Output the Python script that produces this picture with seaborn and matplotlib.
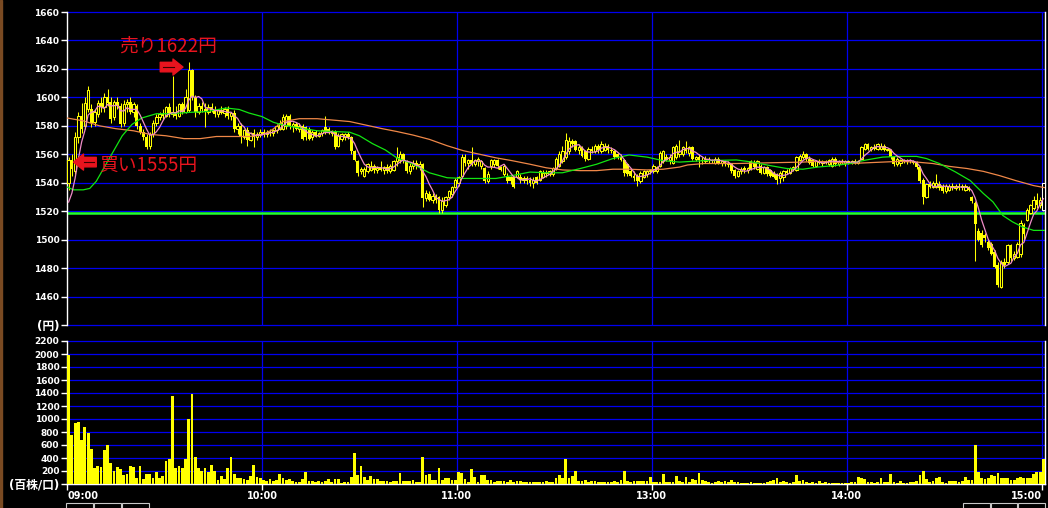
import matplotlib
matplotlib.use("Agg")
import matplotlib.pyplot as plt
from matplotlib.patches import Rectangle
import numpy as np
import pandas as pd
import seaborn as sns

# 1分足 (09:00-11:30, 12:30-15:00)
opens = [
    1540, 1556, 1548, 1572, 1587, 1580, 1592, 1592, 1583, 1588,
    1596, 1593, 1600, 1597, 1586, 1597, 1594, 1582, 1595, 1597,
    1590, 1594, 1580, 1576, 1572, 1566, 1574, 1582, 1586, 1588,
    1587, 1593, 1588, 1590, 1587, 1595, 1590, 1591, 1619, 1600,
    1590, 1594, 1592, 1590, 1593, 1591, 1588, 1591, 1589, 1592,
    1587, 1589, 1578, 1580, 1572, 1577, 1570, 1575, 1572, 1574,
    1576, 1574, 1576, 1575, 1577, 1578, 1578, 1580, 1587, 1580,
    1581, 1578, 1580, 1579, 1578, 1572, 1576, 1573, 1575, 1579,
    1578, 1575, 1576, 1566, 1571, 1572, 1574, 1572, 1562, 1555,
    1548, 1545, 1548, 1549, 1552, 1549, 1550, 1549, 1551, 1548,
    1549, 1555, 1556, 1560, 1555, 1548, 1552, 1554, 1552, 1553,
    1529, 1532, 1528, 1531, 1530, 1521, 1524, 1530, 1532, 1537,
    1540, 1545, 1558, 1554, 1556, 1553, 1555, 1552, 1550, 1541,
    1552, 1553, 1556, 1551, 1546, 1545, 1544, 1544, 1544, 1544,
    1542, 1543, 1542, 1540, 1544, 1542, 1544, 1547, 1546, 1546,
    1550, 1552, 1555, 1558, 1562, 1569, 1569, 1563, 1565, 1562,
    1557, 1564, 1562, 1566, 1562, 1563, 1566, 1563, 1562, 1560,
    1558, 1556, 1553, 1548, 1545, 1545, 1541, 1544, 1546, 1548,
    1548, 1548, 1552, 1555, 1558, 1556, 1554, 1558, 1560, 1560,
    1564, 1561, 1565, 1557, 1558, 1556, 1555, 1557, 1556, 1554,
    1557, 1554, 1555, 1553, 1553, 1549, 1545, 1548, 1550, 1549,
    1555, 1554, 1550, 1552, 1547, 1551, 1549, 1547, 1546, 1543,
    1544, 1548, 1547, 1550, 1549, 1556, 1558, 1560, 1557, 1556,
    1552, 1555, 1554, 1555, 1553, 1552, 1557, 1553, 1555, 1554,
    1555, 1554, 1555, 1554, 1557, 1564, 1567, 1564, 1565, 1564,
    1564, 1566, 1563, 1563, 1558, 1553, 1554, 1556, 1555, 1556,
    1555, 1554, 1551, 1542, 1530, 1539, 1537, 1537, 1539, 1538,
    1534, 1535, 1538, 1536, 1538, 1538, 1535, 1536, 1530, 1526,
    1506, 1505, 1503, 1498, 1497, 1491, 1482, 1467, 1484, 1484,
    1496, 1487, 1488, 1490, 1510, 1514, 1519, 1522, 1528, 1524,
    1521,
]
highs = [
    1558, 1560, 1576, 1590, 1596, 1600, 1608, 1595, 1592, 1598,
    1600, 1603, 1606, 1600, 1598, 1600, 1596, 1598, 1599, 1600,
    1597, 1595, 1582, 1578, 1574, 1576, 1584, 1588, 1590, 1592,
    1594, 1596, 1615, 1594, 1596, 1597, 1606, 1625, 1620, 1602,
    1596, 1597, 1596, 1595, 1596, 1594, 1592, 1594, 1593, 1594,
    1590, 1591, 1582, 1582, 1578, 1579, 1576, 1578, 1576, 1578,
    1578, 1577, 1578, 1578, 1581, 1584, 1588, 1588, 1588, 1583,
    1583, 1582, 1581, 1580, 1579, 1577, 1577, 1576, 1578, 1587,
    1579, 1577, 1577, 1575, 1575, 1575, 1576, 1573, 1563, 1556,
    1551, 1551, 1554, 1555, 1553, 1552, 1555, 1552, 1553, 1553,
    1556, 1565, 1562, 1561, 1556, 1554, 1556, 1556, 1555, 1554,
    1535, 1534, 1533, 1532, 1531, 1530, 1531, 1535, 1538, 1543,
    1545, 1560, 1560, 1557, 1565, 1557, 1558, 1556, 1551, 1548,
    1557, 1557, 1557, 1552, 1553, 1547, 1545, 1545, 1549, 1546,
    1545, 1545, 1544, 1544, 1545, 1549, 1549, 1549, 1549, 1551,
    1558, 1562, 1566, 1575, 1572, 1571, 1570, 1567, 1566, 1563,
    1565, 1566, 1567, 1567, 1569, 1568, 1567, 1565, 1563, 1561,
    1560, 1557, 1554, 1550, 1548, 1546, 1548, 1549, 1549, 1550,
    1553, 1552, 1562, 1563, 1560, 1560, 1566, 1567, 1570, 1566,
    1569, 1566, 1566, 1559, 1560, 1558, 1559, 1558, 1557, 1558,
    1558, 1556, 1556, 1555, 1554, 1550, 1549, 1551, 1552, 1551,
    1556, 1556, 1556, 1553, 1552, 1552, 1550, 1548, 1547, 1548,
    1549, 1550, 1551, 1552, 1559, 1560, 1562, 1561, 1559, 1557,
    1556, 1557, 1556, 1556, 1557, 1558, 1558, 1556, 1557, 1556,
    1556, 1556, 1557, 1556, 1566, 1568, 1568, 1566, 1567, 1568,
    1568, 1567, 1564, 1564, 1559, 1558, 1557, 1557, 1557, 1557,
    1556, 1555, 1552, 1543, 1540, 1541, 1541, 1546, 1541, 1539,
    1539, 1539, 1540, 1539, 1540, 1539, 1539, 1538, 1531, 1527,
    1508, 1507, 1505, 1500, 1498, 1493, 1484, 1486, 1487, 1497,
    1497, 1492, 1498, 1514, 1512, 1522, 1525, 1531, 1533, 1530,
    1540,
]
lows = [
    1535, 1545, 1546, 1568, 1575, 1578, 1590, 1579, 1580, 1586,
    1590, 1590, 1594, 1582, 1584, 1592, 1579, 1580, 1590, 1588,
    1586, 1578, 1574, 1570, 1564, 1564, 1572, 1580, 1584, 1585,
    1586, 1586, 1586, 1585, 1586, 1588, 1589, 1590, 1598, 1586,
    1588, 1590, 1579, 1588, 1590, 1586, 1586, 1588, 1586, 1585,
    1584, 1576, 1574, 1568, 1571, 1566, 1569, 1565, 1570, 1572,
    1572, 1572, 1573, 1573, 1575, 1577, 1577, 1578, 1578, 1576,
    1577, 1576, 1570, 1570, 1570, 1570, 1572, 1572, 1573, 1574,
    1574, 1573, 1564, 1565, 1569, 1570, 1571, 1560, 1555, 1545,
    1546, 1544, 1547, 1548, 1547, 1547, 1548, 1546, 1547, 1547,
    1548, 1552, 1554, 1554, 1547, 1546, 1550, 1550, 1549, 1523,
    1527, 1527, 1526, 1526, 1519, 1519, 1523, 1528, 1530, 1536,
    1538, 1544, 1552, 1550, 1552, 1552, 1552, 1550, 1540, 1540,
    1550, 1551, 1550, 1548, 1545, 1540, 1539, 1536, 1543, 1540,
    1540, 1539, 1538, 1536, 1539, 1541, 1543, 1544, 1545, 1545,
    1549, 1551, 1554, 1557, 1560, 1565, 1562, 1560, 1558, 1555,
    1556, 1561, 1561, 1561, 1561, 1562, 1561, 1561, 1557, 1557,
    1555, 1545, 1545, 1544, 1541, 1538, 1540, 1543, 1544, 1546,
    1547, 1547, 1551, 1554, 1555, 1553, 1553, 1557, 1558, 1559,
    1561, 1559, 1556, 1555, 1551, 1553, 1554, 1554, 1554, 1553,
    1553, 1552, 1552, 1551, 1547, 1543, 1544, 1546, 1547, 1547,
    1549, 1550, 1549, 1546, 1546, 1545, 1544, 1543, 1539, 1540,
    1541, 1546, 1546, 1548, 1548, 1555, 1557, 1555, 1553, 1551,
    1551, 1553, 1552, 1553, 1552, 1551, 1552, 1552, 1553, 1552,
    1553, 1553, 1553, 1553, 1556, 1563, 1563, 1562, 1563, 1563,
    1563, 1562, 1562, 1557, 1552, 1552, 1552, 1554, 1553, 1554,
    1553, 1550, 1540, 1525, 1529, 1536, 1536, 1536, 1535, 1533,
    1533, 1534, 1535, 1535, 1535, 1535, 1534, 1534, 1526, 1485,
    1499, 1495, 1498, 1493, 1489, 1480, 1467, 1466, 1480, 1483,
    1485, 1486, 1487, 1488, 1500, 1513, 1518, 1521, 1522, 1522,
    1520,
]
closes = [
    1556, 1550, 1572, 1587, 1578, 1596, 1605, 1582, 1590, 1596,
    1593, 1600, 1596, 1585, 1597, 1594, 1581, 1595, 1597, 1590,
    1595, 1580, 1576, 1572, 1565, 1574, 1582, 1586, 1588, 1587,
    1593, 1588, 1590, 1587, 1595, 1590, 1600, 1619, 1600, 1590,
    1594, 1592, 1590, 1593, 1591, 1588, 1591, 1589, 1592, 1587,
    1589, 1578, 1580, 1572, 1577, 1570, 1575, 1572, 1574, 1576,
    1574, 1576, 1575, 1577, 1580, 1582, 1586, 1587, 1580, 1581,
    1578, 1580, 1571, 1572, 1571, 1576, 1573, 1575, 1577, 1576,
    1575, 1576, 1565, 1573, 1574, 1574, 1572, 1562, 1556, 1547,
    1550, 1550, 1553, 1552, 1549, 1550, 1549, 1551, 1548, 1552,
    1555, 1558, 1560, 1555, 1548, 1552, 1554, 1552, 1553, 1529,
    1533, 1528, 1531, 1528, 1521, 1527, 1530, 1534, 1537, 1542,
    1544, 1558, 1554, 1556, 1553, 1556, 1557, 1555, 1541, 1546,
    1556, 1556, 1552, 1549, 1552, 1541, 1541, 1537, 1548, 1542,
    1543, 1541, 1540, 1542, 1540, 1548, 1547, 1546, 1548, 1550,
    1557, 1560, 1562, 1570, 1569, 1567, 1563, 1565, 1559, 1557,
    1564, 1562, 1566, 1563, 1567, 1566, 1563, 1562, 1558, 1558,
    1556, 1547, 1546, 1545, 1543, 1541, 1547, 1548, 1548, 1549,
    1552, 1551, 1561, 1562, 1556, 1558, 1565, 1566, 1562, 1565,
    1562, 1565, 1557, 1558, 1556, 1555, 1557, 1556, 1555, 1557,
    1554, 1555, 1553, 1554, 1548, 1545, 1548, 1550, 1549, 1550,
    1550, 1551, 1555, 1547, 1551, 1546, 1545, 1544, 1542, 1547,
    1548, 1547, 1550, 1551, 1558, 1559, 1560, 1557, 1554, 1552,
    1555, 1554, 1555, 1554, 1556, 1557, 1553, 1555, 1554, 1555,
    1554, 1555, 1554, 1555, 1565, 1567, 1564, 1565, 1564, 1567,
    1566, 1563, 1563, 1558, 1553, 1557, 1556, 1555, 1556, 1555,
    1554, 1551, 1541, 1530, 1539, 1537, 1540, 1540, 1536, 1534,
    1538, 1538, 1536, 1538, 1536, 1536, 1538, 1535, 1527, 1511,
    1500, 1496, 1501, 1494, 1490, 1481, 1468, 1484, 1482, 1496,
    1487, 1490, 1497, 1512, 1504, 1521, 1524, 1528, 1524, 1528,
    1540,
]
# 出来高 (百株)
volumes = [
    1980, 750, 940, 960, 680, 880, 790, 540, 250, 270,
    260, 530, 600, 330, 205, 260, 230, 140, 160, 270,
    260, 100, 280, 80, 160, 160, 100, 180, 100, 130,
    350, 380, 1350, 240, 280, 250, 390, 1000, 1390, 410,
    240, 195, 250, 180, 300, 195, 55, 130, 75, 240,
    410, 160, 95, 95, 80, 60, 130, 300, 105, 90,
    60, 50, 75, 45, 60, 155, 95, 60, 75, 45,
    35, 35, 75, 185, 50, 45, 35, 50, 30, 50,
    75, 35, 75, 75, 10, 35, 35, 105, 470, 140,
    275, 110, 65, 125, 80, 75, 45, 45, 45, 25,
    45, 45, 170, 45, 45, 45, 60, 30, 30, 415,
    140, 155, 60, 60, 250, 60, 90, 90, 60, 60,
    185, 175, 75, 35, 225, 105, 35, 140, 140, 60,
    60, 35, 45, 45, 45, 35, 60, 35, 45, 45,
    35, 25, 25, 25, 35, 35, 35, 45, 25, 35,
    90, 145, 90, 390, 85, 125, 200, 45, 45, 60,
    35, 45, 45, 35, 35, 25, 35, 25, 45, 35,
    60, 200, 45, 35, 45, 45, 45, 45, 45, 115,
    35, 25, 35, 155, 35, 25, 35, 125, 50, 35,
    115, 25, 75, 60, 175, 60, 45, 35, 20, 30,
    45, 30, 50, 30, 60, 30, 30, 20, 20, 20,
    30, 20, 20, 20, 20, 30, 50, 60, 95, 30,
    45, 30, 20, 30, 140, 50, 60, 30, 20, 30,
    20, 45, 20, 30, 20, 20, 20, 20, 20, 20,
    20, 30, 30, 115, 85, 75, 30, 30, 20, 30,
    85, 35, 35, 155, 30, 20, 50, 20, 20, 30,
    30, 50, 140, 200, 75, 30, 50, 100, 110, 35,
    20, 45, 45, 45, 30, 45, 110, 60, 60, 600,
    185, 90, 80, 90, 140, 130, 165, 100, 90, 100,
    60, 60, 100, 110, 95, 95, 85, 155, 185, 185,
    385,
]

# 移動平均線 (チャートから読み取り)
green_pos = [0, 2, 5, 7, 9, 11, 14, 17, 20, 23, 27.5, 32.5, 38, 43, 49, 53, 56,
             60, 63.5, 66.5, 71.5, 77, 82, 87, 90, 94, 98, 101.5, 106.5, 111.5,
             117, 122, 127, 132, 137, 142.5, 147.5, 152.5, 158, 163, 168, 173,
             178.5, 183.5, 188.5, 196, 206, 211, 216.5, 221.5, 226.5, 231, 236,
             241, 246, 251, 256, 261.5, 264.5, 268.5, 273.5, 278, 282, 285, 288,
             291, 294, 297.5, 301]
green_val = [1537, 1535, 1535, 1536, 1541, 1549, 1561, 1573, 1581, 1585.5, 1588.5,
             1588.5, 1589.5, 1590, 1592.5, 1591.5, 1589, 1586.5, 1582.5, 1580.5,
             1578.5, 1576.5, 1576, 1575.5, 1573, 1567.5, 1563, 1557.5, 1553, 1547,
             1543.5, 1543, 1543, 1543, 1545, 1547.5, 1547, 1547, 1550, 1553, 1557,
             1559.5, 1558, 1555.5, 1554.5, 1555.5, 1556, 1554.5, 1552, 1550, 1549.5,
             1551, 1552, 1553.5, 1556, 1558, 1558.5, 1558.5, 1557, 1553.5, 1547.5,
             1541.5, 1532.5, 1526.5, 1517, 1512.5, 1509, 1506.5, 1506.5]
orange_pos = [0, 5, 10, 15, 20.5, 25.5, 30.5, 36, 41, 46, 51, 56, 60, 63, 66.5,
              71.5, 77, 82, 87, 92, 97, 101.5, 106.5, 111.5, 117, 122, 127, 132,
              137, 142.5, 147.5, 152.5, 158, 163, 168, 173, 178.5, 183.5, 188.5,
              191, 196, 206, 216, 226.5, 231, 236, 241, 246, 251, 256, 261.5,
              266.5, 271.5, 277, 282, 287, 292, 297.5, 301]
orange_val = [1585.5, 1583.5, 1580, 1578, 1576.5, 1574, 1573, 1571, 1571, 1572.5,
              1572.5, 1572.5, 1573.5, 1577, 1583, 1585, 1585, 1584, 1583, 1580.5,
              1578, 1576, 1573.5, 1570.5, 1566, 1562.5, 1560, 1557.5, 1555.5, 1553,
              1550.5, 1549, 1548.5, 1548.5, 1549.5, 1549.5, 1549, 1549.5, 1551,
              1552.5, 1553.5, 1553.5, 1554, 1554.5, 1555, 1554.5, 1553.5, 1554,
              1554.5, 1555, 1554.5, 1553.5, 1551.5, 1550, 1548, 1545, 1541.5,
              1538, 1536.5]

prev_close = 1519
buy_bar, buy_price = 1, 1555
sell_bar, sell_price = 37, 1622

price_ticks = list(range(1440, 1661, 20))
volume_ticks = list(range(0, 2201, 200))
time_ticks = [0, 60, 120, 180, 240, 300]
time_labels = ["09:00", "10:00", "11:00", "13:00", "14:00", "15:00"]

YEL = "#ffff00"
BLUE = "#0000f0"
RED = "#e8141e"

plt.rcParams["font.family"] = ["DejaVu Sans", "Noto Sans CJK JP"]

W, H = 1048, 508
fig = plt.figure(figsize=(W / 100, H / 100), dpi=100, facecolor="black")


def px_axes(left, top, right, bottom):
    return fig.add_axes([left / W, 1 - bottom / H, (right - left) / W, (bottom - top) / H])


ax = px_axes(67, 12, 1045, 325)
axv = px_axes(67, 341, 1045, 484)

n = len(closes)
xs = np.arange(n) + 0.5
o = np.array(opens, float)
hi = np.array(highs, float)
lo = np.array(lows, float)
c = np.array(closes, float)

for a, ticks in ((ax, price_ticks), (axv, volume_ticks)):
    a.set_facecolor("black")
    for v in ticks:
        a.axhline(v, color=BLUE, lw=0.9, zorder=0, clip_on=False)
    for t in time_ticks[1:]:
        a.axvline(t, color=BLUE, lw=0.9, zorder=0)
    a.set_xlim(0, n)
    for s in ("top", "bottom"):
        a.spines[s].set_visible(False)
    for s in ("left", "right"):
        a.spines[s].set_color("white")
        a.spines[s].set_linewidth(1.0)

# 前日終値
ax.axhline(prev_close, color="#22ff30", lw=1.8, zorder=1)

# ローソク足
ax.vlines(xs, np.minimum(lo, np.minimum(o, c)), np.maximum(hi, np.maximum(o, c)),
          color=YEL, lw=0.75, zorder=2)
body_lo = np.minimum(o, c)
body_h = np.maximum(np.abs(c - o), 0.7)
up = c >= o
ax.bar(xs[~up], body_h[~up], bottom=body_lo[~up], width=0.9, color=YEL, lw=0, zorder=3)
edge = [YEL] * int(up.sum())
edge[-1] = "#fffff0"
ax.bar(xs[up], body_h[up], bottom=body_lo[up], width=0.72, facecolor="black",
       edgecolor=edge, lw=0.75, zorder=3)

# 移動平均線
pink = pd.Series([prev_close] * 4 + closes, dtype=float).rolling(5).mean().iloc[4:].to_numpy()
sns.lineplot(x=orange_pos, y=orange_val, color="#f08848", lw=0.9, ax=ax, zorder=4)
sns.lineplot(x=green_pos, y=green_val, color="#12e612", lw=0.9, ax=ax, zorder=4)
sns.lineplot(x=xs, y=pink, color="#f08cc8", lw=0.9, ax=ax, zorder=5)

ax.set_ylim(price_ticks[0], price_ticks[-1])
ax.set_xlim(0, n)
ax.set_yticks(price_ticks)
ax.set_yticklabels(["(円)"] + [str(v) for v in price_ticks[1:]])
ax.set_xticks(time_ticks)
ax.tick_params(axis="x", length=0, labelbottom=False)
ax.tick_params(axis="y", colors="white", length=4, width=1, pad=1.5, labelsize=6.5)
ax.set_xlabel("")
ax.set_ylabel("")

# 売買ポイント
arrow = "simple,head_length=1.0,head_width=1.6,tail_width=0.95"
ax.annotate("", xy=(sell_bar - 1.3, sell_price - 0.7), xytext=(sell_bar - 8.3, sell_price - 0.7),
            arrowprops=dict(arrowstyle=arrow, color=RED, mutation_scale=7.2, shrinkA=0, shrinkB=0),
            zorder=6)
ax.plot([sell_bar - 7.5, sell_bar - 4.2], [sell_price - 0.7] * 2, color="#3a0000", lw=0.8, zorder=7)
ax.annotate("", xy=(buy_bar + 1.0, buy_price - 0.5), xytext=(buy_bar + 8.0, buy_price - 0.5),
            arrowprops=dict(arrowstyle=arrow, color=RED, mutation_scale=7.2, shrinkA=0, shrinkB=0),
            zorder=6)
ax.plot([buy_bar + 4.1, buy_bar + 7.2], [buy_price - 0.5] * 2, color="#3a0000", lw=0.8, zorder=7)
ax.text(sell_bar - 5.8, 1636, f"売り{sell_price}円", color=RED, fontsize=13.5,
        ha="center", va="center", family=["Noto Sans CJK JP", "DejaVu Sans"], zorder=7)
ax.text(buy_bar + 8.8, buy_price - 2.5, f"買い{buy_price}円", color=RED, fontsize=13.5,
        ha="left", va="center", family=["Noto Sans CJK JP", "DejaVu Sans"], zorder=7)

# 出来高
sns.barplot(x=xs, y=volumes, native_scale=True, color=YEL, saturation=1, width=0.85,
            errorbar=None, linewidth=0, ax=axv, zorder=3)
axv.spines["bottom"].set_visible(True)
axv.spines["bottom"].set_color("white")
axv.spines["bottom"].set_linewidth(1.0)
axv.set_ylim(0, volume_ticks[-1])
axv.set_xlim(0, n)
axv.set_yticks(volume_ticks)
axv.set_yticklabels(["(百株/口)"] + [str(v) for v in volume_ticks[1:]])
axv.set_xticks(time_ticks)
axv.set_xticklabels(time_labels)
axv.tick_params(axis="both", colors="white", length=4, width=1, pad=1.5, labelsize=6.5)
axv.tick_params(axis="x", labelsize=7, pad=1)
axv.set_xlabel("")
axv.set_ylabel("")
xl = axv.get_xticklabels()
xl[0].set_ha("left")
xl[-1].set_ha("right")

for a in (ax, axv):
    for t in a.get_yticklabels() + a.get_xticklabels():
        t.set_fontweight("bold")
ax.get_yticklabels()[0].set_fontsize(8.5)
axv.get_yticklabels()[0].set_fontsize(8.5)

# 画面の縁とボタン
fig.add_artist(Rectangle((0, 0), 2 / W, 1, transform=fig.transFigure, color="#7a4a22"))
for bx0, bx1 in ((66, 93), (94, 121), (122, 149), (963, 990), (991, 1017), (1018, 1045)):
    fig.add_artist(Rectangle((bx0 / W, -4 / H), (bx1 - bx0) / W, 9 / H, transform=fig.transFigure,
                             facecolor="none", edgecolor="#c8c8c8", lw=0.8))

fig.savefig("out.png", dpi=100, facecolor="black")
